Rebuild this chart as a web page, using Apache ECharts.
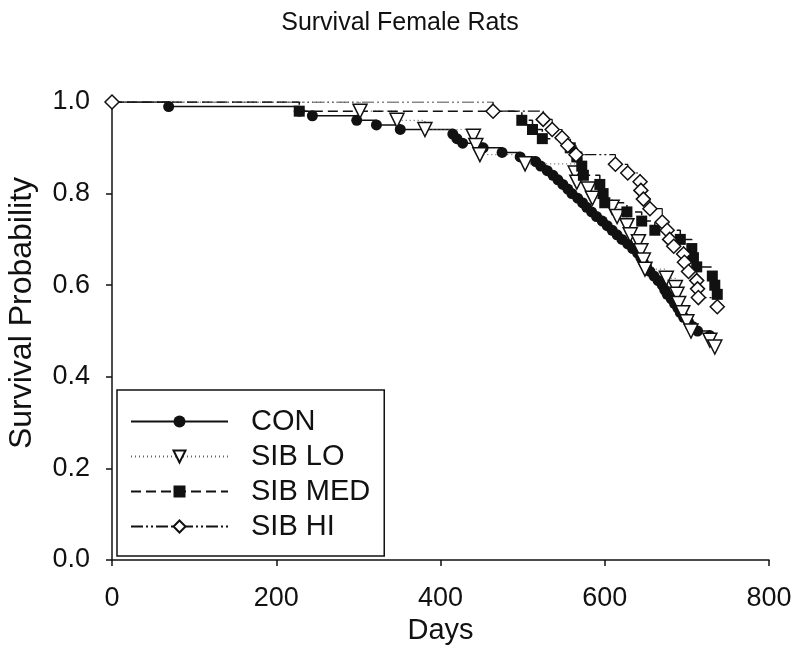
<!DOCTYPE html>
<html>
<head>
<meta charset="utf-8">
<script src="https://cdn.jsdelivr.net/npm/echarts@6/dist/echarts.min.js"></script>
<style>
html, body { margin: 0; padding: 0; background: #fff; }
#chart { width: 800px; height: 671px; }
</style>
</head>
<body>
<div id="chart"></div>
<script>
// Kaplan-Meier steps (days, survival)
const conDays = [0, 69, 228, 244, 298, 322, 351, 415, 420, 427, 452, 475, 497, 516, 522, 530, 537, 543, 549, 555, 560, 567, 573, 578, 584, 590, 597, 603, 609, 615, 621, 628, 634, 640, 644, 647, 651, 655, 660, 665, 670, 673, 676, 681, 685, 689, 692, 696, 702, 707, 713, 728];
const conSurv = [1.00, .99, .98, .97, .96, .95, .94, .93, .92, .91, .90, .89, .88, .87, .86, .85, .84, .83, .82, .81, .80, .79, .78, .77, .76, .75, .74, .73, .72, .71, .70, .69, .68, .67, .66, .65, .64, .63, .62, .61, .60, .59, .58, .57, .56, .55, .54, .53, .52, .51, .50, .49];

const loDays = [0, 302, 347, 381, 440, 443, 448, 503, 564, 566, 580, 585, 609, 615, 627, 631, 641, 644, 647, 649, 675, 686, 688, 690, 695, 700, 705, 728, 734];
const loSurv = [1.00, .98, .96, .94, .925, .905, .885, .865, .845, .825, .81, .79, .77, .75, .73, .71, .695, .675, .655, .635, .615, .595, .58, .56, .54, .52, .50, .48, .465];

const medDays = [0, 228, 499, 512, 524, 558, 566, 572, 574, 594, 598, 600, 627, 645, 661, 692, 706, 708, 712, 731, 734, 737];
const medSurv = [1.00, .98, .96, .94, .92, .90, .88, .86, .84, .82, .80, .78, .76, .74, .72, .70, .68, .66, .64, .62, .60, .58];

const hiDays = [0, 464, 525, 536, 548, 555, 565, 613, 628, 643, 644, 647, 655, 670, 676, 679, 684, 696, 697, 702, 712, 713, 714, 737];
const hiSurv = [1.00, .98, .962, .94, .922, .905, .885, .864, .845, .826, .807, .788, .767, .738, .72, .70, .685, .668, .65, .63, .61, .592, .573, .553];

const seriesNames = ['CON', 'SIB LO', 'SIB MED', 'SIB HI'];
const xTicks = [0, 800, 200];   // min, max, interval
const yTicks = [0, 1, 0.2];

const font = 'Liberation Sans, Arial, sans-serif';

function steps(days, surv, hideFirst) {
    return days.map(function (d, i) {
        if (i === 0 && hideFirst) {
            return { value: [d, surv[i]], symbol: 'none' };
        }
        return [d, surv[i]];
    });
}

const chart = echarts.init(document.getElementById('chart'));
chart.setOption({
    animation: false,
    backgroundColor: '#fff',
    title: {
        text: 'Survival Female Rats',
        left: 'center',
        top: 6,
        textStyle: { fontFamily: font, fontSize: 25, fontWeight: 'normal', color: '#111' }
    },
    legend: {
        orient: 'vertical',
        left: 117,
        top: 390,
        data: seriesNames,
        itemWidth: 97,
        itemHeight: 15,
        itemGap: 6,
        padding: [17, 14, 15, 13],
        borderColor: '#111',
        borderWidth: 1.5,
        textStyle: { fontFamily: font, fontSize: 29, color: '#111', padding: [0, 0, 0, 18] }
    },
    grid: { left: 112, right: 31, top: 102, bottom: 111, outerBoundsMode: 'none' },
    xAxis: {
        type: 'value',
        min: xTicks[0], max: xTicks[1], interval: xTicks[2],
        name: 'Days',
        nameLocation: 'middle',
        nameGap: 44,
        nameTextStyle: { fontFamily: font, fontSize: 29, color: '#111' },
        axisLine: { lineStyle: { color: '#111', width: 1.5 } },
        axisTick: { length: 6, lineStyle: { color: '#111', width: 1.5 } },
        axisLabel: { fontFamily: font, fontSize: 27, color: '#111', margin: 25 },
        splitLine: { show: false }
    },
    yAxis: {
        type: 'value',
        min: yTicks[0], max: yTicks[1], interval: yTicks[2],
        name: 'Survival Probability',
        nameLocation: 'middle',
        nameGap: 74,
        nameTextStyle: { fontFamily: font, fontSize: 32, color: '#111', padding: [0, 0, 0, 36] },
        axisLine: { show: true, lineStyle: { color: '#111', width: 1.5 } },
        axisTick: { show: true, length: 6, lineStyle: { color: '#111', width: 1.5 } },
        axisLabel: {
            fontFamily: font, fontSize: 27, color: '#111', margin: 22,
            formatter: function (v) { return v.toFixed(1); }
        },
        splitLine: { show: false }
    },
    series: [
        {
            name: 'CON',
            type: 'line',
            step: 'end',
            data: steps(conDays, conSurv, true),
            symbol: 'circle',
            symbolSize: 11,
            showAllSymbol: true,
            itemStyle: { color: '#111' },
            lineStyle: { color: '#111', width: 1.5, type: 'solid' }
        },
        {
            name: 'SIB LO',
            type: 'line',
            step: 'end',
            data: steps(loDays, loSurv, true),
            symbol: 'triangle',
            symbolRotate: 180,
            symbolSize: 14,
            showAllSymbol: true,
            itemStyle: { color: '#fff', borderColor: '#111', borderWidth: 1.5 },
            lineStyle: { color: '#666', width: 1.2, type: [1, 3] }
        },
        {
            name: 'SIB MED',
            type: 'line',
            step: 'end',
            data: steps(medDays, medSurv, true),
            symbol: 'rect',
            symbolSize: 11,
            showAllSymbol: true,
            itemStyle: { color: '#111' },
            lineStyle: { color: '#111', width: 1.5, type: [10, 5] }
        },
        {
            name: 'SIB HI',
            type: 'line',
            step: 'end',
            data: steps(hiDays, hiSurv, false),
            symbol: 'diamond',
            symbolSize: 14,
            showAllSymbol: true,
            itemStyle: { color: '#fff', borderColor: '#111', borderWidth: 1.5 },
            lineStyle: { color: '#111', width: 1.2, type: [12, 3, 2, 3, 2, 3] }
        }
    ]
});
</script>
</body>
</html>
